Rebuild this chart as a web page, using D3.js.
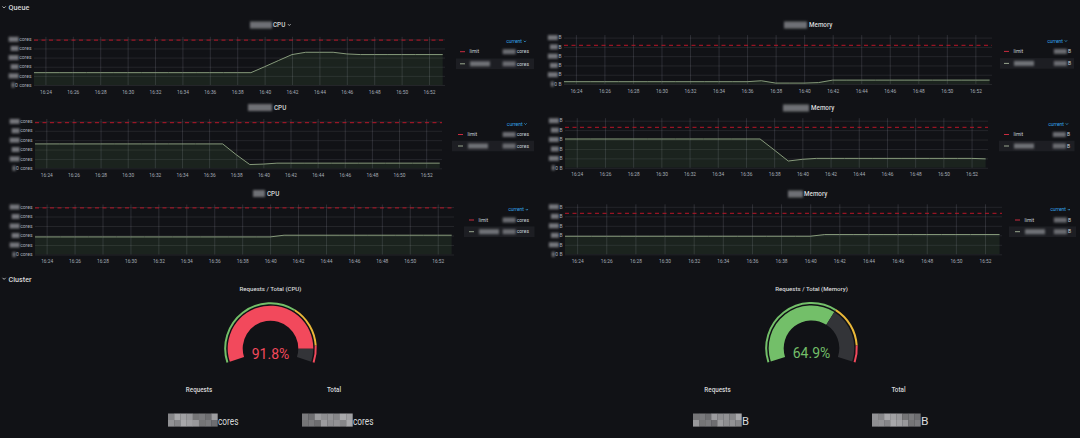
<!DOCTYPE html>
<html><head><meta charset="utf-8">
<script src="https://cdn.jsdelivr.net/npm/d3@7"></script>
<style>
html,body{margin:0;padding:0;background:#111216;overflow:hidden;}
svg{display:block;font-family:Roboto,"Open Sans",sans-serif;}
</style></head><body>
<svg id="c" width="1080" height="438"></svg>
<script>
// ---------------- DATA ----------------
const times = ["16:23","16:24","16:25","16:26","16:27","16:28","16:29","16:30","16:31","16:32",
  "16:33","16:34","16:35","16:36","16:37","16:38","16:39","16:40","16:41","16:42",
  "16:43","16:44","16:45","16:46","16:47","16:48","16:49","16:50","16:51","16:52","16:53"];
const xStart = "16:23:10", xEnd = "16:53:10";
const yTicks = [0,1,2,3,4,5];
const cpuQueueA = [1.35,1.35,1.35,1.35,1.35,1.35,1.35,1.35,1.35,1.35,1.35,1.35,1.35,1.35,1.35,1.35,1.35,
  2.0,2.67,3.33,3.58,3.58,3.58,3.4,3.33,3.33,3.33,3.33,3.33,3.33,3.33];
const memQueueA = [0.25,0.25,0.25,0.25,0.25,0.25,0.25,0.25,0.25,0.25,0.25,0.25,0.25,0.25,
  0.35,0.1,0.1,0.1,0.15,0.42,0.42,0.42,0.42,0.42,0.42,0.42,0.42,0.42,0.42,0.42,0.42];
const cpuQueueB = [2.6,2.6,2.6,2.6,2.6,2.6,2.6,2.6,2.6,2.6,2.6,2.6,2.6,2.6,2.6,
  1.45,0.4,0.45,0.55,0.55,0.55,0.55,0.55,0.55,0.55,0.55,0.55,0.55,0.55,0.55,0.55];
const memQueueB = [3.06,3.06,3.06,3.06,3.06,3.06,3.06,3.06,3.06,3.06,3.06,3.06,3.06,3.06,3.06,
  1.9,0.72,0.9,1.0,1.0,1.0,1.0,1.0,1.0,1.0,1.0,1.0,1.0,1.0,1.0,0.95];
const cpuQueueC = [1.85,1.85,1.85,1.85,1.85,1.85,1.85,1.85,1.85,1.85,1.85,1.85,1.85,1.85,1.85,1.85,1.85,1.85,
  2.03,2.03,2.03,2.03,2.03,2.03,2.03,2.03,2.03,2.03,2.03,2.03,2.03];
const memQueueC = [1.9,1.9,1.9,1.9,1.9,1.9,1.9,1.9,1.9,1.9,1.9,1.9,1.9,1.9,1.9,1.9,1.9,1.9,
  2.08,2.08,2.08,2.08,2.08,2.08,2.08,2.08,2.08,2.08,2.08,2.08,2.08];
const limits = [4.9, 4.17, 4.88, 4.29, 4.9, 4.3];
const panelTitles = ["CPU","Memory","CPU","Memory","CPU","Memory"];
const panelUnits = ["cores","B","cores","B","cores","B"];
const legendHeader = "current";
const limitLabel = "limit";
const sectionTitles = ["Queue","Cluster"];
const gaugeTitles = ["Requests / Total (CPU)","Requests / Total (Memory)"];
const gaugeValues = [91.8, 64.9];
const gaugeThresholds = [65, 90];
const statLabels = ["Requests","Total"];
const statUnits = ["cores","B"];

// ---------------- LAYOUT ----------------
const layout = [
  {x0:34,x1:445,yb:85,yt:39.3, tb:[250,272],tx:273,ty:25,chev:true,
   leg:{cx:527,cy:41.4,dash:460,r1:51.7,r2:63.8,box:[456,534],ve:529}},
  {x0:564,x1:992,yb:84,yt:37.6, tb:[784,807],tx:809,ty:25,
   leg:{cx:1068,cy:41,dash:1004,r1:51.4,r2:63.4,box:[1000,1074],ve:1071}},
  {x0:35,x1:442,yb:168.3,yt:121.4, tb:[248,272],tx:274,ty:107.5,
   leg:{cx:527.6,cy:124,dash:458,r1:134.5,r2:146,box:[452,534],ve:529}},
  {x0:565,x1:988,yb:167.8,yt:120.7, tb:[783,809],tx:811,ty:108,
   leg:{cx:1069,cy:124,dash:1004,r1:134.5,r2:146,box:[999,1074.5],ve:1070}},
  {x0:35,x1:454,yb:254.5,yt:207, tb:[253,265],tx:267,ty:193.5,
   leg:{cx:529,cy:209.7,dash:469,r1:220,r2:231.7,box:[464,534.5],ve:529}},
  {x0:565,x1:1002,yb:254.3,yt:206.8, tb:[788,803],tx:804,ty:194,
   leg:{cx:1071,cy:209.7,dash:1015,r1:220,r2:231.7,box:[1009,1076],ve:1071}}
];
const gaugeLayout = [
  {cx:270.5, cy:348.5, stats:[{lx:199, bx:[168,217.5], tw:20.5},{lx:334, bx:[302,352.5], tw:20.5}]},
  {cx:811.5, cy:348.3, stats:[{lx:717.5, bx:[693,741.5], tw:7},{lx:898.5, bx:[872,920.5], tw:7.5}]}
];
const mosaicShades = [0x86,0x9c,0x74,0xa8,0x8e,0x7a,0xa0,0x92,0x6e,0x98];

// ---------------- DRAW ----------------
const svg = d3.select("#c");
const defs = svg.append("defs");
defs.append("filter").attr("id","blur").attr("x","-50%").attr("y","-50%").attr("width","200%").attr("height","200%")
  .append("feGaussianBlur").attr("stdDeviation",1.1);
defs.append("filter").attr("id","blur2").attr("x","-10%").attr("y","-30%").attr("width","120%").attr("height","160%")
  .append("feGaussianBlur").attr("stdDeviation",0.6);

const TXT = "#d8d9da", DIM = "#a6adb7";
const GREEN = "#73BF69", YELLOW = "#EAB839", RED = "#F2495C";

function chevron(g, x, y, color, s){
  g.append("path").attr("d",`M${x},${y} l${s},${s} l${s},${-s}`).attr("fill","none")
   .attr("stroke",color).attr("stroke-width",0.8);
}

// Section headers
[[8.6,7.6],[8.6,279]].forEach((p,i)=>{
  chevron(svg, 2.5, p[1]-1.2, TXT, 1.6);
  svg.append("text").attr("x",p[0]).attr("y",p[1]+2.5).attr("fill",TXT)
    .attr("font-size",7.2).attr("font-weight",500).text(sectionTitles[i]);
});

const parseM = d3.timeParse("%H:%M"), parseS = d3.timeParse("%H:%M:%S");
const series = [cpuQueueA, memQueueA, cpuQueueB, memQueueB, cpuQueueC, memQueueC];

layout.forEach((L,i)=>{
  const g = svg.append("g");
  const x = d3.scaleTime().domain([parseS(xStart), parseS(xEnd)]).range([L.x0, L.x1]);
  const y = d3.scaleLinear().domain([0,5]).range([L.yb, L.yt]);
  const top = L.yt - 2.5;
  const W = L.x1 - L.x0;

  // title
  g.append("rect").attr("x",L.tb[0]).attr("y",L.ty-3.5).attr("width",L.tb[1]-L.tb[0]).attr("height",7)
    .attr("fill","#6e7075").attr("filter","url(#blur)");
  g.append("text").attr("x",L.tx).attr("y",L.ty+2.2).attr("fill",TXT).attr("font-size",6.3)
    .attr("font-weight",500).text(panelTitles[i]);
  if (L.chev) chevron(g, L.tx+15, L.ty-0.8, TXT, 1.3);

  defs.append("clipPath").attr("id","clip"+i).append("rect")
    .attr("x",L.x0).attr("y",top).attr("width",W).attr("height",L.yb-top);

  // horizontal grid
  g.append("g").attr("transform",`translate(${L.x0},0)`)
    .call(d3.axisLeft(y).tickValues(yTicks).tickSize(-W).tickFormat(""))
    .call(a=>a.select(".domain").remove())
    .call(a=>a.selectAll("line").attr("stroke","rgba(204,204,220,0.10)"));
  // vertical grid
  g.append("g").attr("transform",`translate(0,${L.yb})`)
    .call(d3.axisBottom(x).ticks(d3.timeMinute.every(2)).tickSize(-(L.yb-top)).tickFormat(""))
    .call(a=>a.select(".domain").remove())
    .call(a=>a.selectAll("line").attr("stroke","rgba(204,204,220,0.15)"));
  // x labels
  g.append("g").attr("transform",`translate(0,${L.yb})`)
    .call(d3.axisBottom(x).ticks(d3.timeMinute.every(2)).tickSize(0).tickPadding(5.2).tickFormat(d3.timeFormat("%H:%M")))
    .call(a=>a.select(".domain").remove())
    .call(a=>a.selectAll("text").attr("fill",DIM).attr("font-size",4.8).attr("font-family","Roboto,sans-serif"));
  // y labels
  const yl = g.append("g");
  yTicks.forEach((t,k)=>{
    const tx = yl.append("text").attr("x",L.x0-2.5).attr("y",y(t)+1.7).attr("text-anchor","end")
      .attr("fill",DIM).attr("font-size",5).text((t===0?"0 ":"")+panelUnits[i]);
    const len = tx.node().getComputedTextLength();
    const bw = t===0 ? 3 : 8 + (k%2)*2;
    yl.append("rect").attr("x",L.x0-2.5-len-bw-0.5).attr("y",y(t)-2.5).attr("width",bw).attr("height",5)
      .attr("fill","#74767b").attr("filter","url(#blur)");
  });

  // series
  const pts = times.map((t,k)=>({t:parseM(t), v:series[i][k]}));
  const cg = g.append("g").attr("clip-path",`url(#clip${i})`);
  cg.append("path").datum(pts)
    .attr("d", d3.area().x(d=>x(d.t)).y0(y(0)).y1(d=>y(d.v)))
    .attr("fill","rgba(115,191,105,0.10)");
  cg.append("path").datum(pts)
    .attr("d", d3.line().x(d=>x(d.t)).y(d=>y(d.v)))
    .attr("fill","none").attr("stroke","#93a886").attr("stroke-width",0.9);
  // limit
  const ly = y(limits[i]);
  cg.append("line").attr("x1",L.x0).attr("x2",L.x1).attr("y1",ly).attr("y2",ly)
    .attr("stroke","#c4162a").attr("stroke-opacity",0.75).attr("stroke-width",1.2).attr("stroke-dasharray","4,3.5");

  // legend
  const lg = g.append("g"), Lg = L.leg;
  lg.append("text").attr("x",Lg.cx-5).attr("y",Lg.cy+1.7).attr("text-anchor","end")
    .attr("fill","#33a2e5").attr("font-size",5).text(legendHeader);
  chevron(lg, Lg.cx-3.2, Lg.cy-0.6, "#33a2e5", 1.1);
  lg.append("line").attr("x1",Lg.dash).attr("x2",Lg.dash+5).attr("y1",Lg.r1).attr("y2",Lg.r1)
    .attr("stroke","#e02f44").attr("stroke-width",0.9);
  lg.append("text").attr("x",Lg.dash+9.5).attr("y",Lg.r1+1.7).attr("fill","#c7d0d9").attr("font-size",5).text(limitLabel);
  lg.append("rect").attr("x",Lg.box[0]).attr("y",Lg.r2-5.3).attr("width",Lg.box[1]-Lg.box[0]).attr("height",10.6)
    .attr("fill","#1d1e23");
  lg.append("line").attr("x1",Lg.dash).attr("x2",Lg.dash+5).attr("y1",Lg.r2).attr("y2",Lg.r2)
    .attr("stroke","#a7b59b").attr("stroke-width",0.9);
  lg.append("rect").attr("x",Lg.dash+10).attr("y",Lg.r2-2.5).attr("width",20).attr("height",5)
    .attr("fill","#707277").attr("filter","url(#blur)");
  [Lg.r1, Lg.r2].forEach(ry=>{
    const vt = lg.append("text").attr("x",Lg.ve).attr("y",ry+1.7).attr("text-anchor","end")
      .attr("fill","#c7d0d9").attr("font-size",5).text(panelUnits[i]);
    const len = vt.node().getComputedTextLength();
    lg.append("rect").attr("x",Lg.ve-len-14).attr("y",ry-2.5).attr("width",13).attr("height",5)
      .attr("fill","#6a6c71").attr("filter","url(#blur)");
  });
});

// ---------------- GAUGES ----------------
gaugeLayout.forEach((G,i)=>{
  const g = svg.append("g").attr("transform",`translate(${G.cx},${G.cy})`);
  const a = d3.scaleLinear().domain([0,100]).range([-0.6*Math.PI, 0.6*Math.PI]);
  const ring = d3.arc().innerRadius(44.3).outerRadius(46.3);
  const bar = d3.arc().innerRadius(27.8).outerRadius(42.8);
  const steps = [0, ...gaugeThresholds, 100];
  const cols = [GREEN, YELLOW, RED];
  for (let k=0;k<3;k++){
    g.append("path").attr("d", ring({startAngle:a(steps[k]), endAngle:a(steps[k+1])})).attr("fill",cols[k]);
  }
  const v = gaugeValues[i];
  const vc = v >= gaugeThresholds[1] ? RED : (v >= gaugeThresholds[0] ? YELLOW : GREEN);
  g.append("path").attr("d", bar({startAngle:a(0), endAngle:a(v)})).attr("fill",vc);
  g.append("path").attr("d", bar({startAngle:a(v), endAngle:a(100)})).attr("fill","#333438");
  g.append("text").attr("x",0).attr("y",10).attr("text-anchor","middle").attr("fill",vc)
    .attr("font-size",14).attr("font-weight",400).text(v.toFixed(1)+"%");
  svg.append("text").attr("x",G.cx).attr("y",291.2).attr("text-anchor","middle").attr("fill",TXT)
    .attr("font-size",6.1).attr("font-weight",500).text(gaugeTitles[i]);

  G.stats.forEach((S,k)=>{
    svg.append("text").attr("x",S.lx).attr("y",391.5).attr("text-anchor","middle").attr("fill",TXT)
      .attr("font-size",6.3).attr("font-weight",500).text(statLabels[k]);
    const bw = S.bx[1]-S.bx[0];
    const nb = 8, cw = bw/nb;
    const mg = svg.append("g").attr("filter","url(#blur2)");
    for (let b=0;b<nb;b++){
      for (let r=0;r<2;r++){
        const shade = mosaicShades[(b*3 + r*7 + k*5 + i*2) % mosaicShades.length];
        mg.append("rect").attr("x",S.bx[0]+b*cw).attr("y",413.5+r*6.5).attr("width",cw+0.2).attr("height",6.6)
          .attr("fill",d3.rgb(shade,shade,shade+3));
      }
    }
    svg.append("text").attr("x",S.bx[1]+0.5).attr("y",425).attr("fill",TXT)
      .attr("font-size",10.5).attr("textLength",S.tw).attr("lengthAdjust","spacingAndGlyphs")
      .text(statUnits[i]);
  });
});
</script>
</body></html>
